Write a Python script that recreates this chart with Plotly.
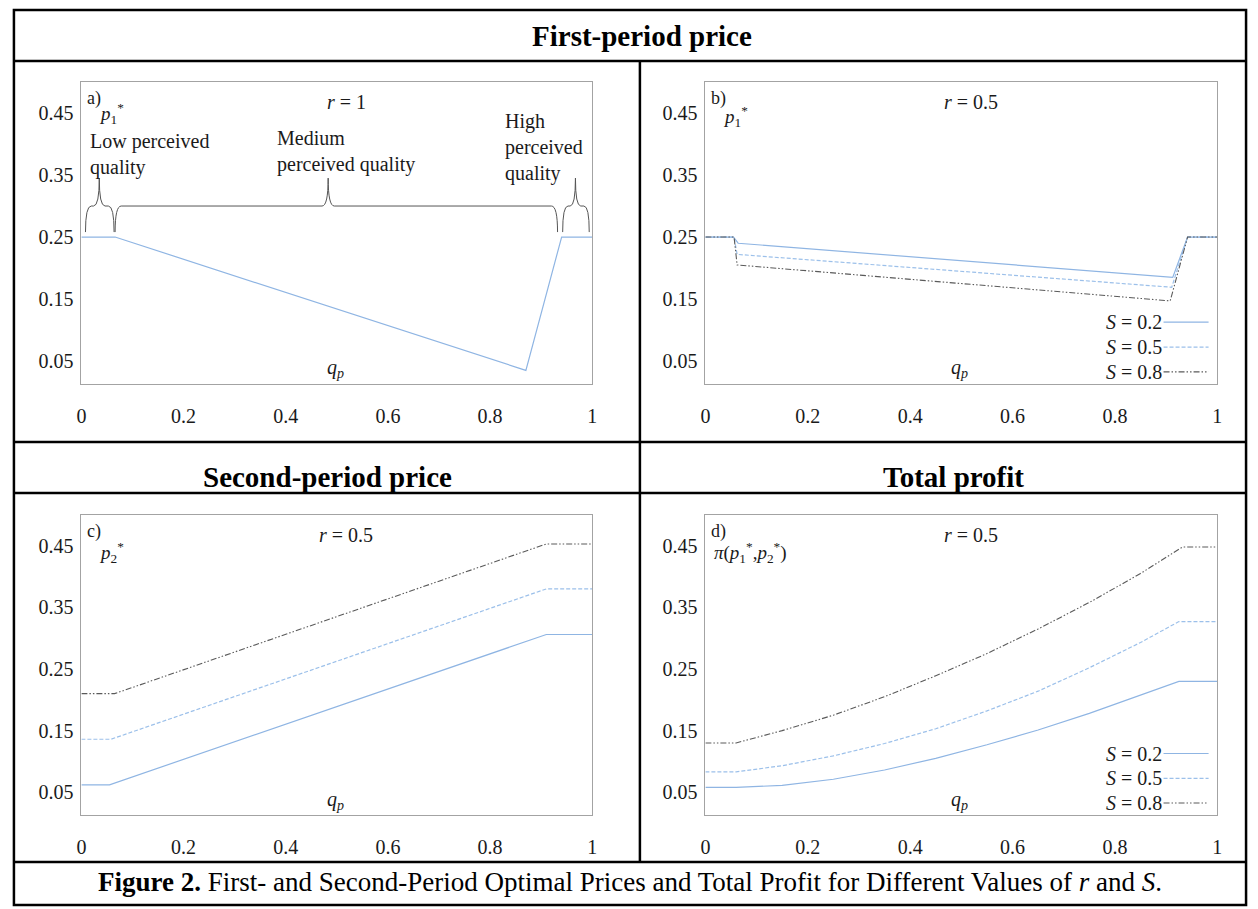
import plotly.graph_objects as go

W, H = 1258, 909

# ---------------- data ----------------
x_ticks = [0, 0.2, 0.4, 0.6, 0.8, 1]
x_tick_text = ["0", "0.2", "0.4", "0.6", "0.8", "1"]
y_ticks = [0.05, 0.15, 0.25, 0.35, 0.45]
y_tick_text = ["0.05", "0.15", "0.25", "0.35", "0.45"]
series_names = ["S = 0.2", "S = 0.5", "S = 0.8"]

# a) first-period price, r = 1
a_q = [0, 0.066, 0.87, 0.94, 1]
a_p1 = [0.25, 0.25, 0.035, 0.25, 0.25]

# b) first-period price, r = 0.5
b_q_s02 = [0, 0.055, 0.064, 0.913, 0.942, 1]
b_p1_s02 = [0.25, 0.25, 0.240, 0.185, 0.25, 0.25]
b_q_s05 = [0, 0.056, 0.062, 0.911, 0.942, 1]
b_p1_s05 = [0.25, 0.25, 0.222, 0.169, 0.25, 0.25]
b_q_s08 = [0, 0.056, 0.062, 0.908, 0.942, 1]
b_p1_s08 = [0.25, 0.25, 0.205, 0.147, 0.25, 0.25]

# c) second-period price, r = 0.5
c_q_s02 = [0, 0.055, 0.91, 1]
c_p2_s02 = [0.062, 0.062, 0.306, 0.306]
c_q_s05 = [0, 0.058, 0.91, 1]
c_p2_s05 = [0.136, 0.136, 0.380, 0.380]
c_q_s08 = [0, 0.065, 0.91, 1]
c_p2_s08 = [0.210, 0.210, 0.453, 0.453]

# d) total profit, r = 0.5
d_q_s02 = [0, 0.06, 0.15, 0.25, 0.35, 0.45, 0.55, 0.65, 0.75, 0.85, 0.925, 1]
d_pi_s02 = [0.058, 0.058, 0.061, 0.071, 0.086, 0.105, 0.127, 0.151, 0.178, 0.207, 0.230, 0.230]
d_q_s05 = [0, 0.06, 0.15, 0.25, 0.35, 0.45, 0.55, 0.65, 0.75, 0.85, 0.925, 1]
d_pi_s05 = [0.083, 0.083, 0.093, 0.109, 0.129, 0.153, 0.182, 0.214, 0.252, 0.293, 0.327, 0.327]
d_q_s08 = [0, 0.06, 0.15, 0.25, 0.35, 0.45, 0.55, 0.65, 0.75, 0.85, 0.932, 1]
d_pi_s08 = [0.130, 0.130, 0.150, 0.175, 0.205, 0.239, 0.275, 0.315, 0.358, 0.405, 0.448, 0.448]

# brace positions (q start, q tip, q end) for panel a
braces = [(0.008, 0.035, 0.064), (0.066, 0.483, 0.932), (0.942, 0.967, 0.994)]
brace_levels = (0.258, 0.300, 0.345)  # end, line, tip

# ---------------- styles ----------------
BLUE = "#8fb5e3"
BLUE2 = "#9cc0ea"
GRAY = "#5a5a5a"
styles = [dict(color=BLUE, dash="solid", width=1.2),
          dict(color=BLUE2, dash="4px,2px", width=1.2),
          dict(color=GRAY, dash="6px,2px,1.5px,2px,1.5px,2px", width=1.1)]
SERIF = "Liberation Serif"
TXT = "#1a1a1a"


def px(x):
    return x / W


def py(y):
    return 1 - y / H


fig = go.Figure()

# panel boxes in pixels (left, right, top, bottom)
boxes = {
    1: (77, 592, 82, 384),
    2: (706, 1222, 82, 384),
    3: (77, 592, 515, 815),
    4: (706, 1222, 515, 815),
}


def ax_names(i):
    return ("x" if i == 1 else f"x{i}"), ("y" if i == 1 else f"y{i}")


# traces
fig.add_trace(go.Scatter(x=a_q, y=a_p1, mode="lines", line=styles[0], xaxis="x", yaxis="y",
                         showlegend=False))
for (qq, vv), st in zip([(b_q_s02, b_p1_s02), (b_q_s05, b_p1_s05), (b_q_s08, b_p1_s08)], styles):
    fig.add_trace(go.Scatter(x=qq, y=vv, mode="lines", line=st, xaxis="x2", yaxis="y2", showlegend=False))
for (qq, vv), st in zip([(c_q_s02, c_p2_s02), (c_q_s05, c_p2_s05), (c_q_s08, c_p2_s08)], styles):
    fig.add_trace(go.Scatter(x=qq, y=vv, mode="lines", line=st, xaxis="x3", yaxis="y3", showlegend=False))
for (qq, vv), st in zip([(d_q_s02, d_pi_s02), (d_q_s05, d_pi_s05), (d_q_s08, d_pi_s08)], styles):
    fig.add_trace(go.Scatter(x=qq, y=vv, mode="lines", line=st, xaxis="x4", yaxis="y4", showlegend=False))

layout_axes = {}
for i, (x0, x1, y0, y1) in boxes.items():
    xn, yn = ax_names(i)
    xkey = "xaxis" if i == 1 else f"xaxis{i}"
    ykey = "yaxis" if i == 1 else f"yaxis{i}"
    layout_axes[xkey] = dict(domain=[px(x0), px(x1)], range=[0, 1], anchor=yn,
                             tickvals=x_ticks, ticktext=x_tick_text,
                             showline=True, mirror=True, linecolor="#a3a3a3", linewidth=1,
                             showgrid=False, zeroline=False, ticks="", ticklabelstandoff=14,
                             tickfont=dict(family=SERIF, size=20, color=TXT), fixedrange=True)
    layout_axes[ykey] = dict(domain=[py(y1), py(y0)], range=[0.013, 0.50], anchor=xn,
                             tickvals=y_ticks, ticktext=y_tick_text,
                             showline=True, mirror=True, linecolor="#a3a3a3", linewidth=1,
                             showgrid=False, zeroline=False, ticks="", ticklabelstandoff=3,
                             tickfont=dict(family=SERIF, size=20, color=TXT), fixedrange=True)

shapes = []
# outer table frame and rules
LW = 2.5
BOTTOM_RULE = 862
shapes.append(dict(type="rect", xref="paper", yref="paper", x0=px(9), x1=px(1251), y0=py(905), y1=py(10),
                   line=dict(color="black", width=LW)))
for yy in [61, 442, 493, BOTTOM_RULE]:
    shapes.append(dict(type="line", xref="paper", yref="paper", x0=px(9), x1=px(1251), y0=py(yy), y1=py(yy),
                       line=dict(color="black", width=LW)))
shapes.append(dict(type="line", xref="paper", yref="paper", x0=px(640), x1=px(640), y0=py(61),
                   y1=py(BOTTOM_RULE), line=dict(color="black", width=LW)))

# braces in panel a
ye, yl, yt = brace_levels
for (b0, bm, b1) in braces:
    r = min(0.012, (b1 - b0) / 5)
    path = (f"M {b0},{ye} Q {b0},{yl} {b0 + r},{yl} L {bm - r},{yl} Q {bm},{yl} {bm},{yt} "
            f"Q {bm},{yl} {bm + r},{yl} L {b1 - r},{yl} Q {b1},{yl} {b1},{ye}")
    shapes.append(dict(type="path", xref="x", yref="y", path=path, line=dict(color="#555555", width=1)))

# legend samples in panels b and d
leg_y = [0.205, 0.122, 0.04]
for i in (2, 4):
    xn, yn = ax_names(i)
    for ly, st in zip(leg_y, styles):
        shapes.append(dict(type="line", xref=f"{xn} domain", yref=f"{yn} domain", x0=0.895, x1=0.983,
                           y0=ly, y1=ly, line=dict(color=st["color"], dash=st["dash"], width=1.1)))

annotations = []


def ann(text, x, y, xanchor="center", yanchor="middle", size=20, bold=False, align="center", xref="paper",
        yref="paper"):
    annotations.append(dict(text=text, x=x, y=y, xref=xref, yref=yref, xanchor=xanchor, yanchor=yanchor,
                            showarrow=False, align=align,
                            font=dict(family=SERIF, size=size, color="black" if bold else TXT)))


# headers
ann("<b>First-period price</b>", px(642), py(36), size=29, bold=True)
ann("<b>Second-period price</b>", px(325), py(477), size=29, bold=True)
ann("<b>Total profit</b>", px(956), py(477), size=29, bold=True)
# caption
ann("<b>Figure 2.</b> First- and Second-Period Optimal Prices and Total Profit for Different Values of "
    "<i>r</i> and <i>S</i>.", px(630), py(882), size=27, bold=True)

panel_letters = {1: "a)", 2: "b)", 3: "c)", 4: "d)"}
var_labels = {1: "<i>p</i><sub>1</sub><sup>*</sup>", 2: "<i>p</i><sub>1</sub><sup>*</sup>",
              3: "<i>p</i><sub>2</sub><sup>*</sup>",
              4: "<i>π</i>(<i>p</i><sub>1</sub><sup>*</sup>,<i>p</i><sub>2</sub><sup>*</sup>)"}
r_labels = {1: "<i>r</i> = 1", 2: "<i>r</i> = 0.5", 3: "<i>r</i> = 0.5", 4: "<i>r</i> = 0.5"}
var_x = {1: 0.03, 2: 0.03, 3: 0.03, 4: 0.012}
var_y = {1: 0.895, 2: 0.885, 3: 0.875, 4: 0.875}
for i in boxes:
    xn, yn = ax_names(i)
    ann(panel_letters[i], 0.008, 0.945, xanchor="left", size=18, xref=f"{xn} domain", yref=f"{yn} domain")
    ann(var_labels[i], var_x[i], var_y[i], xanchor="left", size=19, xref=f"{xn} domain", yref=f"{yn} domain")
    ann(r_labels[i], 0.518, 0.935, size=20, xref=f"{xn} domain", yref=f"{yn} domain")
    ann("<i>q</i><sub><i>p</i></sub>", 0.497, 0.05, size=20, xref=f"{xn} domain", yref=f"{yn} domain")

for i in (2, 4):
    xn, yn = ax_names(i)
    for ly, name in zip(leg_y, series_names):
        ann(name.replace("S", "<i>S</i>"), 0.895, ly, xanchor="right", size=20,
            xref=f"{xn} domain", yref=f"{yn} domain")

# region labels in panel a
ann("Low perceived<br>quality", 0.012, 0.760, xanchor="left", align="left", size=20, xref="x domain",
    yref="y domain")
ann("Medium<br>perceived quality", 0.378, 0.770, xanchor="left", align="left", size=20, xref="x domain",
    yref="y domain")
ann("High<br>perceived<br>quality", 0.826, 0.782, xanchor="left", align="left", size=20, xref="x domain",
    yref="y domain")

fig.update_layout(width=W, height=H, margin=dict(l=0, r=0, t=0, b=0), paper_bgcolor="white",
                  plot_bgcolor="white", shapes=shapes, annotations=annotations, showlegend=False,
                  **layout_axes)

fig.write_html("out.html", config={"displayModeBar": False},
               post_script="document.body.style.margin='0';document.body.style.overflow='hidden';")
